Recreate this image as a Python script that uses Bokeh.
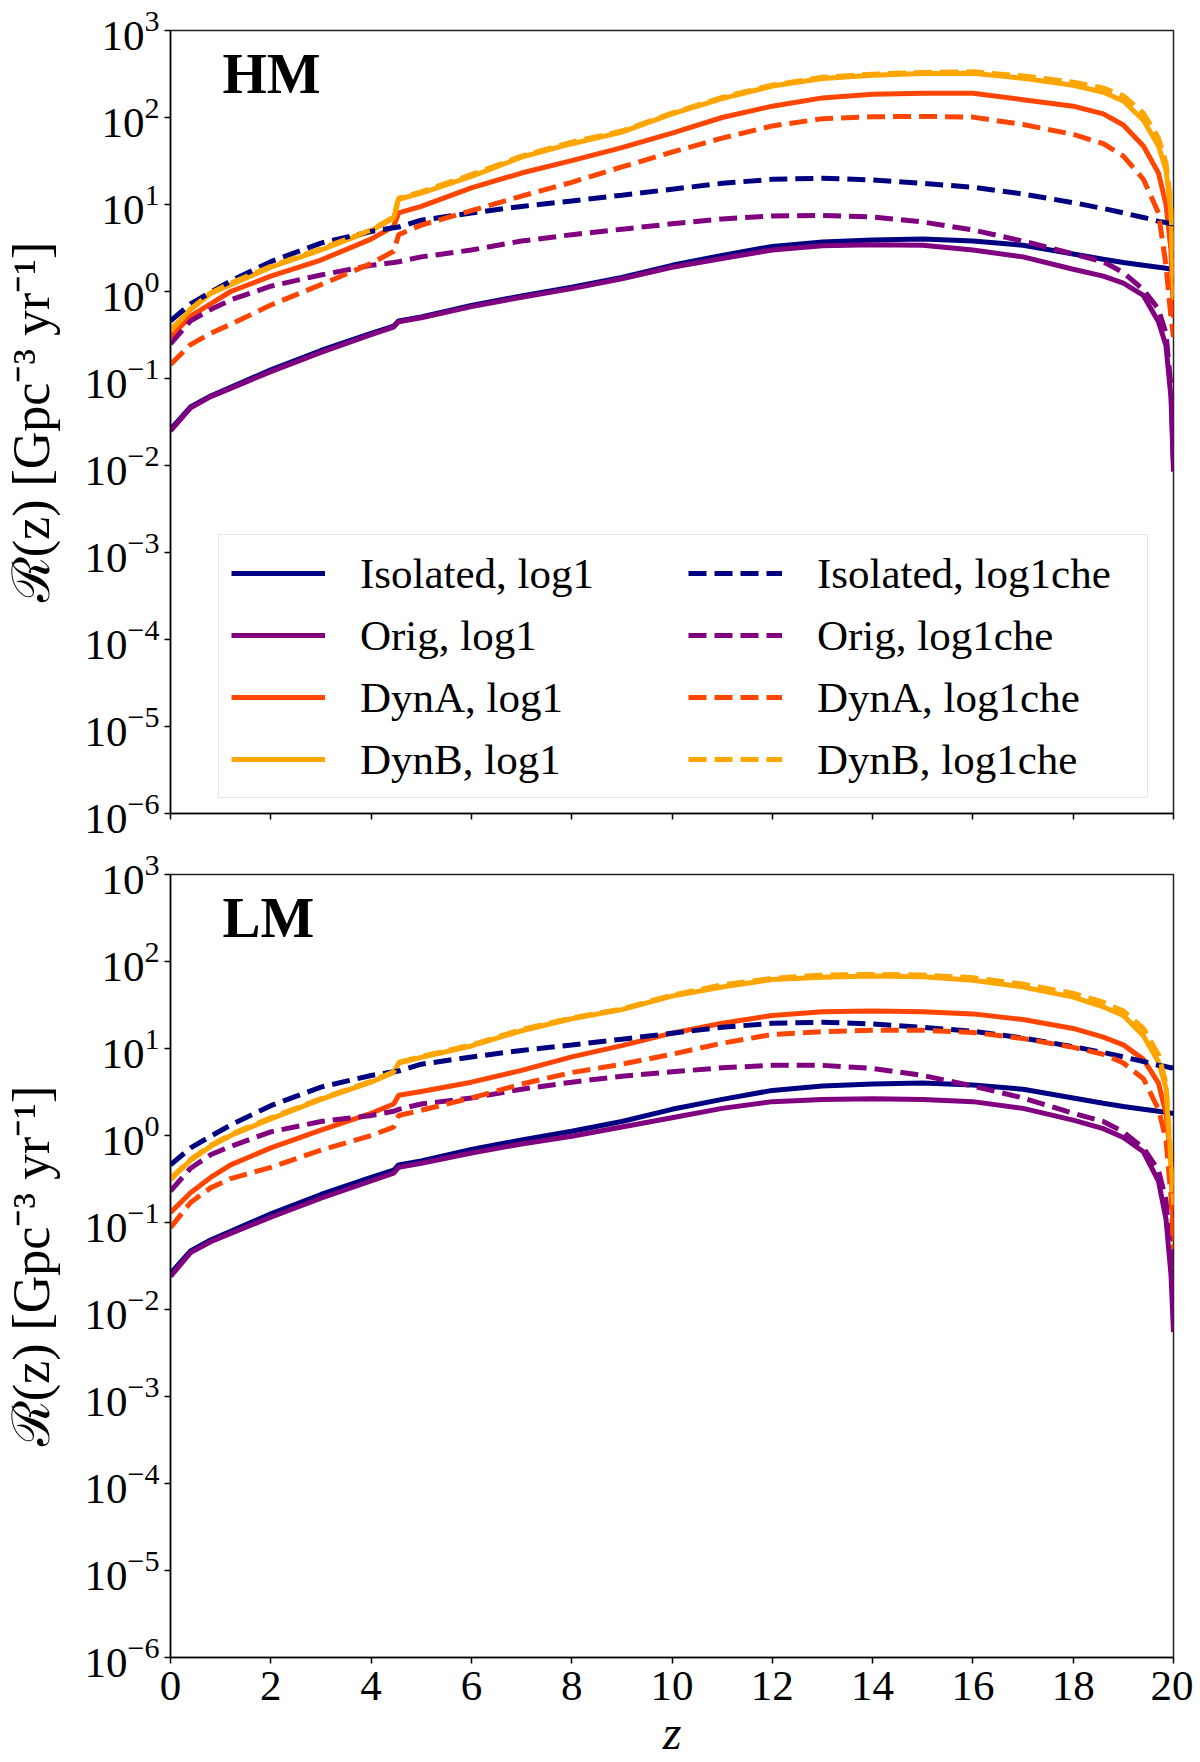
from bokeh.plotting import figure
from bokeh.models import Range1d, FixedTicker, Legend, LegendItem, Label
from bokeh.layouts import column
from bokeh.embed import file_html
from bokeh.resources import INLINE

# redshift grid shared by all curves
z = [0.0, 0.4, 0.8, 1.2, 2.0, 3.0, 4.0, 4.45, 4.55, 5.0, 6.0, 7.0, 8.0, 9.0, 10.0,
     11.0, 12.0, 13.0, 14.0, 15.0, 16.0, 17.0, 18.0, 18.6, 19.0, 19.4, 19.7, 19.85, 19.95, 20.0]

z_ticks = [0, 2, 4, 6, 8, 10, 12, 14, 16, 18, 20]
y_ticks = [1e-6, 1e-5, 1e-4, 1e-3, 1e-2, 1e-1, 1e0, 1e1, 1e2, 1e3]

# merger rates [Gpc^-3 yr^-1], isolated channel (same in both panels)
iso_log1 = [0.026, 0.047, 0.063, 0.079, 0.126, 0.21, 0.33, 0.40, 0.46, 0.51, 0.69, 0.89, 1.12, 1.45, 2.0,
            2.6, 3.3, 3.7, 3.9, 4.0, 3.8, 3.4, 2.7, 2.35, 2.15, 2.0, 1.9, 1.85, 1.8, 1.8]
iso_che = [0.46, 0.72, 0.98, 1.32, 2.2, 3.6, 4.9, 5.4, 5.5, 6.6, 8.0, 9.5, 11, 12.8, 15,
           17.5, 19.5, 20, 19.2, 17.5, 15.8, 13.2, 10.5, 9.0, 8.0, 7.1, 6.4, 6.2, 6.0, 6.0]

# HM panel
orig_log1_hm = [0.025, 0.046, 0.062, 0.077, 0.12, 0.2, 0.32, 0.39, 0.45, 0.5, 0.67, 0.86, 1.08, 1.4, 1.9,
                2.4, 3.0, 3.35, 3.45, 3.4, 3.0, 2.5, 1.8, 1.5, 1.25, 0.9, 0.45, 0.24, 0.06, 0.0085]
orig_che_hm = [0.25, 0.46, 0.62, 0.8, 1.15, 1.55, 2.0, 2.15, 2.2, 2.5, 3.0, 3.8, 4.5, 5.2, 6.0,
               6.8, 7.4, 7.5, 7.2, 6.3, 5.1, 3.8, 2.7, 2.2, 1.65, 1.05, 0.63, 0.33, 0.08, 0.01]
dyna_log1_hm = [0.30, 0.52, 0.72, 1.0, 1.5, 2.3, 4.0, 5.6, 8.0, 9.5, 15.5, 23, 32, 45, 66,
                100, 135, 168, 185, 190, 190, 160, 135, 110, 82, 47, 23, 10, 3, 0.5]
dyna_che_hm = [0.145, 0.245, 0.33, 0.42, 0.7, 1.2, 2.1, 2.9, 4.5, 5.8, 8.5, 12.5, 18, 27, 40,
               58, 80, 97, 102, 103, 101, 83, 64, 50, 36, 19.5, 8, 2.0, 0.5, 0.3]
dynb_log1_hm = [0.35, 0.62, 0.95, 1.2, 1.9, 3.0, 5.0, 7.0, 11.5, 13.5, 21, 35, 50, 68, 110,
                165, 230, 280, 305, 320, 322, 282, 235, 195, 155, 93, 47, 25, 8, 0.8]
dynb_che_hm = [0.36, 0.63, 0.96, 1.25, 1.95, 3.1, 5.1, 7.2, 11.8, 14, 22, 36, 52, 70, 112,
               170, 236, 290, 315, 330, 335, 300, 255, 218, 178, 112, 58, 30, 10, 0.9]

# LM panel
orig_log1_lm = [0.024, 0.045, 0.06, 0.075, 0.115, 0.19, 0.3, 0.37, 0.43, 0.48, 0.63, 0.8, 0.98, 1.25, 1.6,
                2.05, 2.45, 2.6, 2.65, 2.6, 2.45, 2.05, 1.5, 1.2, 0.95, 0.65, 0.3, 0.11, 0.025, 0.0055]
orig_che_lm = [0.23, 0.42, 0.6, 0.75, 1.1, 1.45, 1.7, 1.9, 2.0, 2.3, 2.7, 3.4, 4.1, 4.8, 5.4,
               6.0, 6.4, 6.4, 5.9, 4.9, 3.7, 2.7, 1.8, 1.45, 1.1, 0.72, 0.4, 0.18, 0.04, 0.01]
dyna_log1_lm = [0.13, 0.22, 0.33, 0.46, 0.72, 1.15, 1.8, 2.3, 2.9, 3.2, 4.1, 5.6, 8.0, 10.8, 15,
                19.5, 24, 26.5, 27, 26.5, 25, 21.5, 17, 13.5, 11, 7.5, 4, 1.8, 0.5, 0.06]
dyna_che_lm = [0.087, 0.17, 0.25, 0.32, 0.43, 0.68, 1.0, 1.25, 1.7, 1.95, 2.7, 3.9, 5.3, 6.6, 8.6,
               11.5, 14.5, 15.6, 16.2, 16.2, 15.3, 13, 10.3, 8.6, 6.8, 4.5, 2.0, 0.9, 0.2, 0.05]
dynb_log1_lm = [0.31, 0.52, 0.75, 1.0, 1.55, 2.6, 4.1, 5.3, 6.8, 7.9, 10.7, 16, 22, 28, 40,
                51, 62, 66, 68, 67, 61, 51, 39, 30, 24, 14, 7, 3.5, 0.4, 0.16]
dynb_che_lm = [0.32, 0.53, 0.77, 1.03, 1.6, 2.65, 4.2, 5.4, 6.9, 8.1, 11, 16.5, 22.5, 28.5, 41,
               54, 64, 70, 71, 70, 65, 55, 43, 34, 27, 17, 8.5, 4, 0.5, 0.16]

names = ["Isolated", "Orig", "DynA", "DynB"]
colors = ["#000080", "#800080", "#ff4500", "#ffa500"]

SERIF = "Liberation Serif"
FRAME_H = 783


def make_panel(tag, log1, che, bottom):
    p = figure(x_range=Range1d(0, 20), y_range=Range1d(1e-6, 1e3), y_axis_type="log",
               frame_width=1003, frame_height=FRAME_H,
               min_border_left=170, min_border_right=20,
               min_border_top=30,
               min_border_bottom=10 if bottom else 31,
               output_backend="svg", toolbar_location=None,
               background_fill_color="white", border_fill_color="white")
    p.xgrid.visible = False
    p.ygrid.visible = False
    p.outline_line_color = "#222222"
    p.outline_line_width = 1.5

    p.xaxis.ticker = FixedTicker(ticks=z_ticks)
    p.yaxis.ticker = FixedTicker(ticks=y_ticks)
    for ax in (p.xaxis, p.yaxis):
        ax.axis_line_width = 1.5
        ax.major_tick_in = 0
        ax.major_tick_out = 6
        ax.major_tick_line_width = 1.5
        ax.minor_tick_line_color = None
        ax.major_label_text_font = SERIF
        ax.major_label_text_font_size = "43px"
        ax.major_label_text_color = "black"
        ax.axis_label_text_font = SERIF
        ax.axis_label_text_font_style = "normal"
        ax.axis_label_text_color = "black"

    p.yaxis.major_label_standoff = 5
    p.yaxis.axis_label = "ℛ(z) [Gpc⁻³ yr⁻¹]"
    p.yaxis.axis_label_text_font_size = "52px"
    p.yaxis.axis_label_standoff = 21

    if bottom:
        p.xaxis.axis_label = "z"
        p.xaxis.axis_label_text_font_size = "48px"
        p.xaxis.axis_label_text_font_style = "italic"
        p.xaxis.major_label_standoff = 8
        p.xaxis.axis_label_standoff = 3
    else:
        p.xaxis.major_label_overrides = {t: "" for t in z_ticks}
        p.xaxis.major_label_text_font_size = "8px"
        p.xaxis.major_label_standoff = 0

    solid, dashed = [], []
    for name, col, ys in zip(names, colors, log1):
        r = p.line(z, ys, line_color=col, line_width=5)
        solid.append(LegendItem(label=f"{name}, log1", renderers=[r]))
    for name, col, ys in zip(names, colors, che):
        r = p.line(z, ys, line_color=col, line_width=5, line_dash="18 8")
        dashed.append(LegendItem(label=f"{name}, log1che", renderers=[r]))

    p.add_layout(Label(x=52, y=FRAME_H - 74, x_units="screen", y_units="screen", text=tag,
                       text_font=SERIF, text_font_style="bold", text_font_size="57px",
                       text_color="black"))
    return p, solid + dashed


p1, items = make_panel("HM",
                       [iso_log1, orig_log1_hm, dyna_log1_hm, dynb_log1_hm],
                       [iso_che, orig_che_hm, dyna_che_hm, dynb_che_hm], False)
p2, _ = make_panel("LM",
                   [iso_log1, orig_log1_lm, dyna_log1_lm, dynb_log1_lm],
                   [iso_che, orig_che_lm, dyna_che_lm, dynb_che_lm], True)

legend = Legend(items=items, ncols=2, location=(48, 15),
                label_text_font=SERIF, label_text_font_size="43px", label_text_color="black",
                glyph_width=94, glyph_height=40, label_standoff=35,
                label_width=318, label_height=52, spacing=10, padding=12,
                border_line_color="#cccccc", border_line_width=1.5,
                background_fill_color="white", background_fill_alpha=0.8)
p1.add_layout(legend)

layout = column(p1, p2)
open("out.html", "w").write(file_html(layout, INLINE))
